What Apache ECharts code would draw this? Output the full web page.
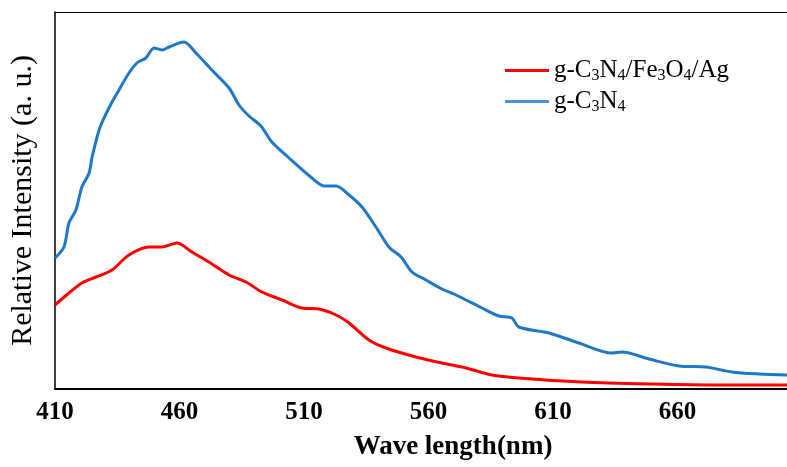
<!DOCTYPE html>
<html>
<head>
<meta charset="utf-8">
<script src="https://cdn.jsdelivr.net/npm/echarts@6/dist/echarts.min.js"></script>
<style>
html,body{margin:0;padding:0;background:#fff;}
#chart{width:787px;height:467px;}
</style>
</head>
<body>
<div id="chart"></div>
<script>
// Wavelength tick labels (nm)
const xTickLabels = [410, 460, 510, 560, 610, 660];

// g-C3N4 (blue) spectrum: wavelength (nm) and relative intensity (a.u.)
const blueWl = [410,413.6,415.6,418.4,420.8,423.7,424.9,427.7,429.7,432.9,435.7,439.7,442.9,446.5,449.8,453,455.8,461.8,466.6,473,479.9,483.9,487.9,492.7,497.1,504,513.2,518,522.9,528.1,533.3,538.9,544.1,549,553.4,559,565.4,570.2,575.1,581.5,588.3,593.5,596.3,608.4,620.4,633.7,637.7,648.6,660.6,671.4,681.9,692.7,704];
const blueVal = [131,142,166,179,202,216,232,259,271,287,299,316,326,331,341,339,342,347,336,319,301,284,273,263,247,231,211,203,203,194,182,162,142,132,117,109,100,95,89,81,73,71,62,56,46,36,37,30,23,22,17,15,14];

// g-C3N4/Fe3O4/Ag (red) spectrum
const redWl = [410,415.6,420.8,426.5,432.9,439.7,447.8,453,459,465,471.8,479.9,486.7,493.1,501.2,509.2,516,522.9,528.1,536.1,542.9,555,565.4,575.1,585.5,596.3,621.6,649.8,676.7,704];
const redVal = [84,96,106,112,119,134,142,142,146,137,127,114,107,97,89,81,80,74,66,49,41,32,26,21,14,11,7,5,4,4];

const seriesNames = ['g-C3N4/Fe3O4/Ag', 'g-C3N4'];
const legendRich = {
  'g-C3N4/Fe3O4/Ag': '{n|g-C}{s|3}{n|N}{s|4}{n|/Fe}{s|3}{n|O}{s|4}{n|/Ag}',
  'g-C3N4': '{n|g-C}{s|3}{n|N}{s|4}'
};

const serif = '"Liberation Serif","Times New Roman",serif';
const pairs = (xs, ys) => xs.map((x, i) => [x, ys[i]]);

const chart = echarts.init(document.getElementById('chart'));
chart.setOption({
  animation: false,
  backgroundColor: '#fff',
  grid: { left: 55, right: 0, top: 12, bottom: 78 },
  legend: {
    orient: 'vertical',
    left: 500,
    top: 53,
    itemWidth: 44,
    itemHeight: 3,
    itemGap: 5,
    icon: 'rect',
    data: [
      { name: seriesNames[0], itemStyle: { color: '#FF0000' } },
      { name: seriesNames[1], itemStyle: { color: '#4A94D6' } }
    ],
    formatter: n => legendRich[n],
    textStyle: {
      fontFamily: serif,
      color: '#000',
      rich: {
        n: { fontSize: 25, fontFamily: serif, color: '#000', lineHeight: 27 },
        s: { fontSize: 16, fontFamily: serif, color: '#000', lineHeight: 16, verticalAlign: 'bottom' }
      }
    }
  },
  xAxis: [{
    type: 'value',
    min: 410,
    max: 704,
    splitLine: { show: false },
    axisTick: { show: false },
    axisLine: { show: true, onZero: false, lineStyle: { color: '#000', width: 2 } },
    axisLabel: {
      customValues: xTickLabels,
      margin: 11,
      fontFamily: serif,
      fontWeight: 'bold',
      fontSize: 25,
      color: '#000'
    },
    name: 'Wave length(nm)',
    nameLocation: 'middle',
    nameGap: 45,
    nameTextStyle: {
      fontFamily: serif,
      fontWeight: 'bold',
      fontSize: 27,
      color: '#000',
      padding: [0, 0, 0, 64]
    }
  }, {
    type: 'value',
    position: 'top',
    min: 410,
    max: 704,
    splitLine: { show: false },
    axisTick: { show: false },
    axisLabel: { show: false },
    axisLine: { show: true, onZero: false, lineStyle: { color: '#000', width: 1 } }
  }],
  yAxis: {
    type: 'value',
    min: 0,
    max: 377,
    splitLine: { show: false },
    axisTick: { show: false },
    axisLabel: { show: false },
    axisLine: { show: true, onZero: false, lineStyle: { color: '#000', width: 1.5 } },
    name: 'Relative Intensity (a. u.)',
    nameLocation: 'middle',
    nameGap: 17,
    nameTextStyle: {
      fontFamily: serif,
      fontSize: 30,
      color: '#000'
    }
  },
  series: [{
    name: seriesNames[0],
    type: 'line',
    xAxisIndex: 0,
    data: pairs(redWl, redVal),
    showSymbol: false,
    symbol: 'none',
    smooth: 0.3,
    lineStyle: { color: '#FF0000', width: 3 },
    itemStyle: { color: '#FF0000' }
  }, {
    name: seriesNames[1],
    type: 'line',
    xAxisIndex: 0,
    data: pairs(blueWl, blueVal),
    showSymbol: false,
    symbol: 'none',
    smooth: 0.3,
    lineStyle: { color: '#1E78C8', width: 3 },
    itemStyle: { color: '#1E78C8' }
  }]
});
</script>
</body>
</html>
